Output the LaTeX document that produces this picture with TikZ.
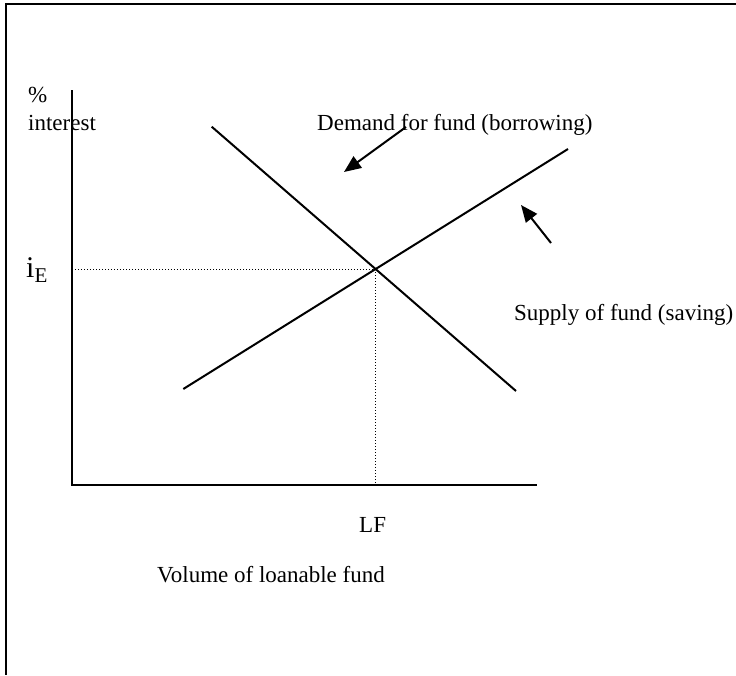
\documentclass[tikz,border=0pt]{standalone}
\usepackage{fontspec}
\setmainfont{Liberation Serif}
\usetikzlibrary{arrows.meta}
\newcommand{\lbsize}{\fontsize{23}{27}\selectfont}
\newcommand{\iesize}{\fontsize{30}{34}\selectfont}
\tikzset{
  curve/.style={line width=2pt},
  guide/.style={line width=1pt,dash pattern=on 1pt off 2pt},
  pointer/.style={line width=2pt,-{Triangle[length=17pt,width=14pt]}},
  lbl/.style={inner sep=0pt,anchor=base west,font=\lbsize}
}

\begin{document}
\begin{tikzpicture}[x=1pt,y=-1pt]
    \useasboundingbox (0,0) rectangle (736,675);

    % frame
    \draw[line width=2pt] (736,4) -- (6,4) -- (6,675);

    \coordinate (O) at (72,485);
    \coordinate (Ytop) at (72,90);
    \coordinate (Xend) at (537,485);
    \coordinate (E) at (375,269);
    \coordinate (Eleft) at (75,269);

    % axes
    \draw[curve] (Ytop) -- (O) -- (Xend);

    % demand and supply
    \coordinate (D1) at (211.7,126.7);
    \coordinate (D2) at (516,391);
    \coordinate (S1) at (183.3,389);
    \coordinate (S2) at (568,149);
    \draw[curve] (D1) -- (D2);
    \draw[curve] (S1) -- (S2);

    % equilibrium guides
    \draw[guide] (Eleft) -- (E) -- (E |- O);

    % labels
    \node[lbl] (pct) at (28,102) {\%};
    \node[lbl] (int) at (28,130) {interest};
    \node[inner sep=0pt,anchor=base west,font=\iesize] (iE) at (26,277) {i\textsubscript{E}};
    \node[lbl] (dem) at (317,130) {Demand for fund (borrowing)};
    \node[lbl] (sup) at (514,320) {Supply of fund (saving)};
    \node[lbl] (lf) at (359,532) {LF};
    \node[lbl] (vol) at (157,582) {Volume of loanable fund};

    % pointers
    \coordinate (DA) at (406,127);
    \coordinate (DB) at (344,172);
    \coordinate (SA) at (551,243);
    \coordinate (SB) at (521,205);
    \draw[pointer] (DA) -- (DB);
    \draw[pointer] (SA) -- (SB);
\end{tikzpicture}
\end{document}
